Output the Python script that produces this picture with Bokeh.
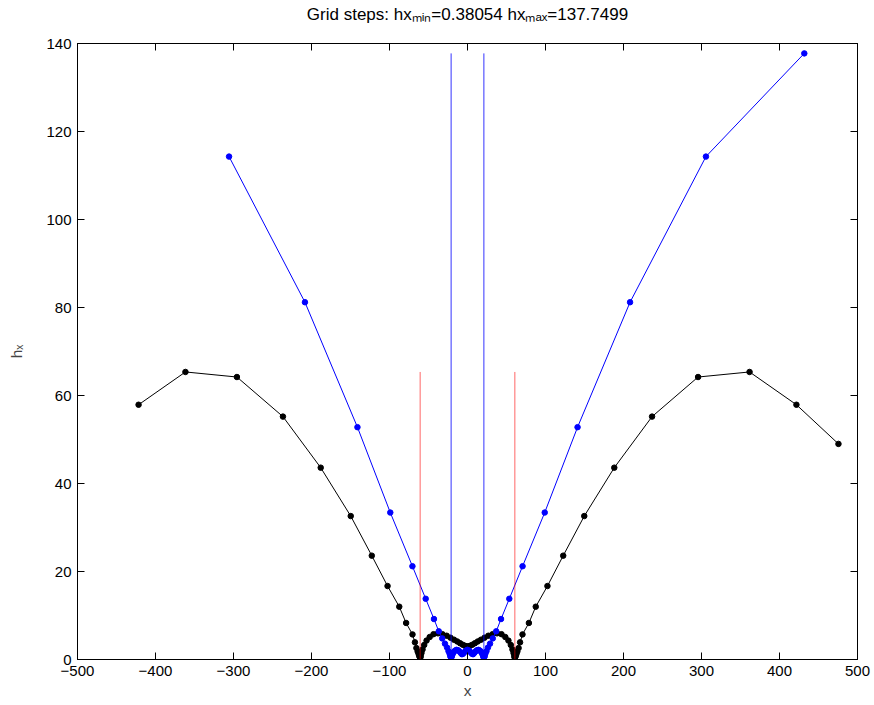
from bokeh.plotting import figure
from bokeh.models import Range1d, FixedTicker, LinearAxis
from bokeh.embed import file_html
from bokeh.resources import INLINE

# ---------------- data ----------------
black_x = [-421.7, -361.6, -295.6, -236.6, -188.2, -149.7, -122.7, -102.5, -87.5, -78.7,
           -70.5, -67.4, -65.5, -63.9, -62.6, -61.7, -61.1, -60.7, -60.4, -59.9,
           -59.0, -57.6, -55.5, -52.5, -48.5, -43.6, -37.9, -32.1, -26.7, -21.8,
           -17.3, -13.2, -9.5, -6.1, -3.0,
           0.0,
           3.0, 6.1, 9.5, 13.2, 17.3, 21.8, 26.7, 32.1, 37.9, 43.6,
           48.5, 52.5, 55.5, 57.6, 59.0, 59.9, 60.4, 60.7, 61.1, 61.7,
           62.6, 63.9, 65.5, 67.4, 70.5, 78.7, 87.5, 102.5, 122.7, 149.7,
           188.2, 236.6, 295.6, 361.6, 421.7, 475.6]
black_hx = [57.9, 65.35, 64.2, 55.2, 43.6, 32.6, 23.6, 16.7, 12.0, 8.3,
            5.7, 3.9, 2.6, 1.8, 1.2, 0.8, 0.5, 0.38, 0.5, 0.9,
            1.5, 2.3, 3.3, 4.3, 5.1, 5.75, 5.95, 5.75, 5.4, 4.95,
            4.5, 4.1, 3.7, 3.35, 3.1,
            3.0,
            3.1, 3.35, 3.7, 4.1, 4.5, 4.95, 5.4, 5.75, 5.95, 5.75,
            5.1, 4.3, 3.3, 2.3, 1.5, 0.9, 0.5, 0.38, 0.5, 0.8,
            1.2, 1.8, 2.6, 3.9, 5.7, 8.3, 12.0, 16.7, 23.6, 32.6,
            43.6, 55.2, 64.2, 65.35, 57.9, 49.0]

blue_x = [-305.7, -208.4, -141.1, -99.0, -70.6, -53.6, -43.0, -36.8, -32.4, -28.9,
          -26.2, -24.3, -22.9, -22.0, -21.4, -21.0, -20.6, -20.0, -19.1, -17.8,
          -16.1, -14.1, -12.0, -10.1, -8.5, -7.1, -5.8, -4.3, -2.4,
          0.0,
          2.4, 4.3, 5.8, 7.1, 8.5, 10.1, 12.0, 14.1, 16.1, 17.8,
          19.1, 20.0, 20.6, 21.0, 21.4, 22.0, 22.9, 24.3, 26.2, 28.9,
          32.4, 36.8, 43.0, 53.6, 70.6, 99.0, 141.1, 208.4, 305.7, 431.8]
blue_hx = [114.3, 81.2, 52.8, 33.4, 21.2, 13.8, 9.2, 6.4, 4.8, 3.6,
           2.7, 1.9, 1.3, 0.8, 0.5, 0.38, 0.55, 0.85, 1.25, 1.65,
           2.0, 2.2, 2.1, 1.8, 1.45, 1.2, 1.3, 1.6, 2.0,
           2.2,
           2.0, 1.6, 1.3, 1.2, 1.45, 1.8, 2.1, 2.2, 2.0, 1.65,
           1.25, 0.85, 0.55, 0.38, 0.5, 0.8, 1.3, 1.9, 2.7, 3.6,
           4.8, 6.4, 9.2, 13.8, 21.2, 33.4, 52.8, 81.2, 114.3, 137.75]

red_line_x = [-60.7, 60.7]
red_line_bottom = [0.0, 0.0]
red_line_top = [65.35, 65.35]
blue_line_x = [-21.0, 21.0]
blue_line_bottom = [0.0, 0.0]
blue_line_top = [137.75, 137.75]

x_ticks = [-500, -400, -300, -200, -100, 0, 100, 200, 300, 400, 500]
y_ticks = [0, 20, 40, 60, 80, 100, 120, 140]

title_text = "Grid steps: hx\u2098\u1d62\u2099=0.38054 hx\u2098\u2090\u2093=137.7499"
x_label = "x"
y_label = "h\u2093"

# ---------------- figure ----------------
FONT = "Liberation Sans"

p = figure(frame_width=780, frame_height=616,
           x_range=Range1d(-500, 500), y_range=Range1d(0, 140),
           output_backend="svg", toolbar_location=None,
           min_border_left=77, min_border_right=16,
           min_border_top=43, min_border_bottom=45,
           background_fill_color="white", border_fill_color="white")
p.grid.visible = False
p.outline_line_color = "black"
p.outline_line_width = 1
p.title.visible = False


def style_axis(ax, ticks, show_labels=True):
    ax.ticker = FixedTicker(ticks=ticks)
    ax.major_tick_in = 7
    ax.major_tick_out = 0
    ax.minor_tick_in = 0
    ax.minor_tick_out = 0
    ax.axis_line_color = "black"
    ax.major_tick_line_color = "black"
    ax.major_label_text_font = FONT
    ax.major_label_text_color = "black"
    ax.major_label_text_font_size = "15px"
    ax.major_label_standoff = 6
    if not show_labels:
        ax.major_label_overrides = {t: "" for t in ticks}
        ax.major_label_text_font_size = "0px"
        ax.major_label_standoff = 0


style_axis(p.xaxis[0], x_ticks)
style_axis(p.yaxis[0], y_ticks)

p.xaxis[0].axis_label = x_label
p.xaxis[0].axis_label_text_font = FONT
p.xaxis[0].axis_label_text_font_size = "15.5px"
p.xaxis[0].axis_label_text_font_style = "normal"
p.xaxis[0].axis_label_standoff = 3

p.yaxis[0].axis_label = y_label
p.yaxis[0].axis_label_text_font = FONT
p.yaxis[0].axis_label_text_font_size = "15.5px"
p.yaxis[0].axis_label_text_font_style = "normal"
p.yaxis[0].axis_label_standoff = 18

# top axis: carries the ticks of the box and the chart title
top_ax = LinearAxis()
style_axis(top_ax, x_ticks, show_labels=False)
top_ax.axis_label = title_text
top_ax.axis_label_text_font = FONT
top_ax.axis_label_text_font_size = "17px"
top_ax.axis_label_text_font_style = "normal"
top_ax.axis_label_text_color = "black"
top_ax.axis_label_standoff = 20
p.add_layout(top_ax, "above")

right_ax = LinearAxis()
style_axis(right_ax, y_ticks, show_labels=False)
p.add_layout(right_ax, "right")

# ---------------- data marks ----------------
p.line(black_x, black_hx, line_color="black", line_width=1)
p.scatter(black_x, black_hx, size=5.5, fill_color="black", line_color="black")
p.line(blue_x, blue_hx, line_color="#0000ff", line_width=1)
p.scatter(blue_x, blue_hx, size=5.5, fill_color="#0000ff", line_color="#0000ff")
p.segment(x0=red_line_x, y0=red_line_bottom, x1=red_line_x, y1=red_line_top,
          line_color="#ff0000", line_width=1, line_alpha=0.6)
p.segment(x0=blue_line_x, y0=blue_line_bottom, x1=blue_line_x, y1=blue_line_top,
          line_color="#0000ff", line_width=1, line_alpha=0.8)

open("out.html", "w").write(file_html(p, INLINE))
